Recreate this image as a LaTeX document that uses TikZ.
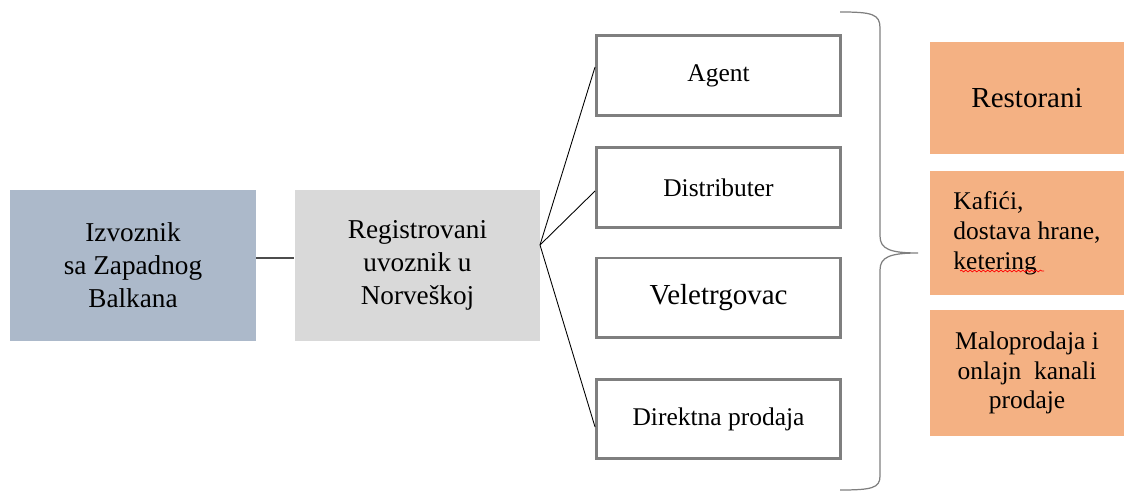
\documentclass[tikz,border=0pt]{standalone}
\usepackage{fontspec}
\setmainfont{Liberation Serif}
\usetikzlibrary{decorations.pathmorphing}

\definecolor{izvozfill}{HTML}{ACB9CA}
\definecolor{uvozfill}{HTML}{D9D9D9}
\definecolor{kanalfill}{HTML}{F4B183}
\definecolor{kanalline}{HTML}{7F7F7F}

\begin{document}
\begin{tikzpicture}[x=0.02cm, y=-0.02cm,
    bigbox/.style={minimum width=4.91cm, minimum height=3.02cm, inner sep=0pt,
      align=center, font=\fontsize{15.5}{18.7}\selectfont},
    kanal/.style={draw=kanalline, line width=1.7pt, minimum width=4.88cm,
      minimum height=1.6cm, inner sep=0pt, font=\fontsize{14.5}{17}\selectfont},
    kupac/.style={fill=kanalfill, minimum width=3.88cm, inner sep=0pt,
      font=\fontsize{14.5}{17}\selectfont},
    fanline/.style={black, line width=0.5pt}]
    \useasboundingbox (0,0) rectangle (1124,492);

    % prvi nivo
    \node [bigbox, fill=izvozfill] (izvoznik) at (133,265.5)
       {Izvoznik\\ sa Zapadnog\\ Balkana};
    \node [bigbox, fill=uvozfill] (uvoznik) at (417.5,265.5)
       {Registrovani\\ uvoznik u\\ Norve\v{s}koj};
    \draw [black!70, line width=0.8pt] ([yshift=0.15cm]izvoznik.east) -- ([yshift=0.15cm]uvoznik.west);

    % kanali
    \node [kanal] (agent) at (718.5,75.5) {Agent};
    \node [kanal] (distributer) at (718.5,187.5) {Distributer};
    \node [kanal, font=\fontsize{16.5}{19}\selectfont] (veletrgovac) at (718.5,298) {Veletrgovac};
    \node [kanal] (direktna) at (718.5,419) {Direktna prodaja};

    \coordinate (fan) at (540,245);
    \draw [fanline] (fan) -- ([yshift=0.17cm]agent.west);
    \draw [fanline] (fan) -- ([yshift=-0.07cm]distributer.west);
    \draw [fanline] (fan) -- ([yshift=-0.16cm]direktna.west);

    % zagrada
    \draw [kanalline, line width=0.7pt] (840,12) .. controls (872,12) and (880,14) .. (880,28)
       -- (880,236) .. controls (880,249) and (890,253) .. (918,253)
       .. controls (890,253) and (880,257) .. (880,270)
       -- (880,476) .. controls (880,488) and (872,490) .. (840,490);

    % kupci
    \node [kupac, minimum height=2.24cm, font=\fontsize{16.5}{19}\selectfont] (restorani) at (1027,98) {Restorani};
    \node [kupac, minimum height=2.48cm, align=left] (kafici) at (1027,233)
       {Kafi\'ci,\\ dostava hrane,\\ ketering};
    \node [kupac, minimum height=2.52cm, align=center] (maloprodaja) at (1027,373)
       {Maloprodaja i\\ onlajn~ kanali\\ prodaje};
    \draw [red, line width=0.4pt, decorate, decoration={snake, amplitude=0.5pt, segment length=2.5pt}]
       (960,271) -- (1044,271);
\end{tikzpicture}
\end{document}
